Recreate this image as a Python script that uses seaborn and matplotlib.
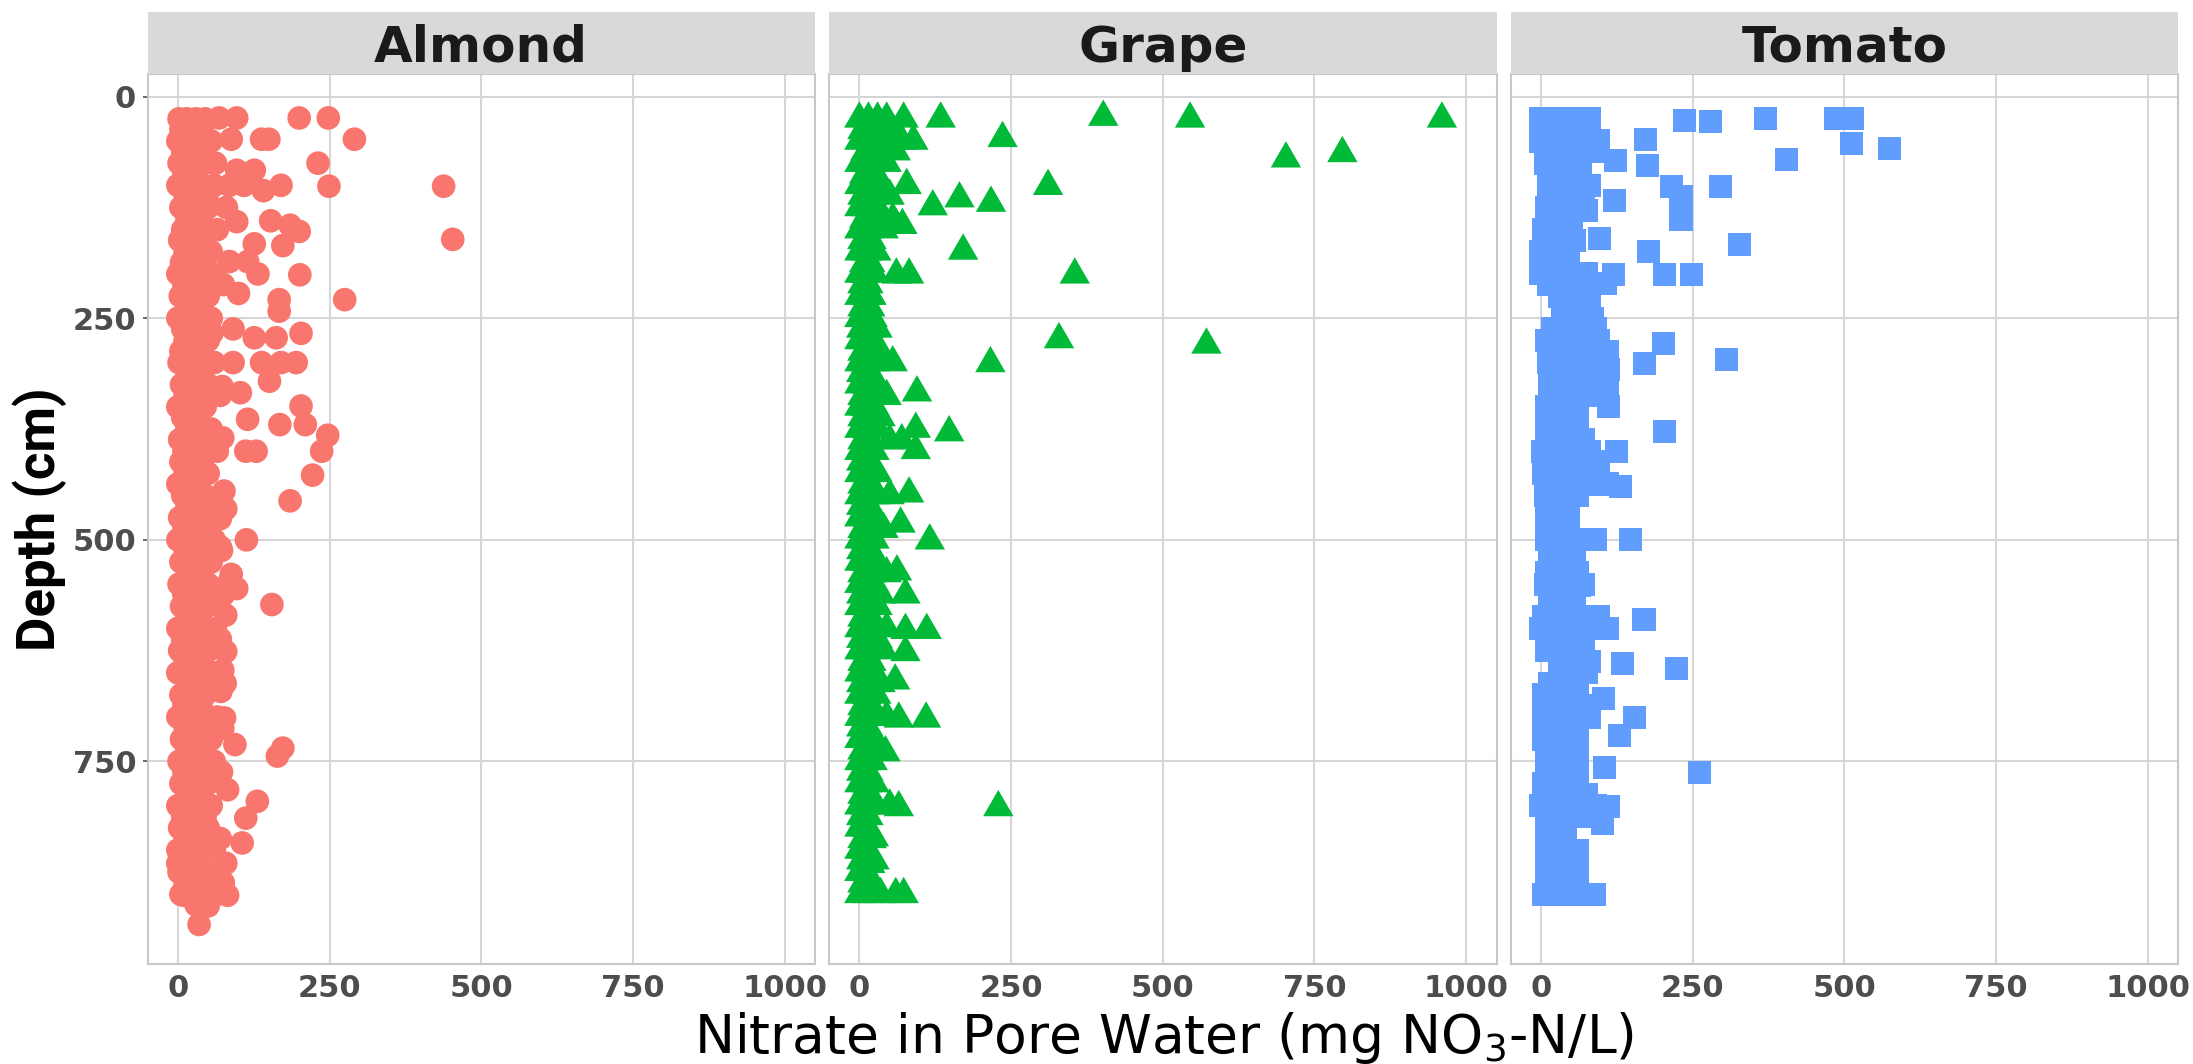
import matplotlib
matplotlib.use("Agg")
import matplotlib.pyplot as plt
from matplotlib.patches import Rectangle
from matplotlib.path import Path
import seaborn as sns
import pandas as pd

# ---------------- data (nitrate mg NO3-N/L, depth cm) ----------------
crops = ["Almond", "Grape", "Tomato"]
colors = {"Almond": "#F8766D", "Grape": "#00BA38", "Tomato": "#619CFF"}
x_ticks = [0, 250, 500, 750, 1000]
y_ticks = [0, 250, 500, 750]

almond_points = [
    (2,25),(15,25),(30,25),(45,25),(5,37),(40,37),(0,50),(12,50),(28,50),(55,50),
    (8,62),(35,62),(2,75),(20,75),(45,75),(62,75),(10,87),(30,87),(0,100),(18,100),
    (40,100),(60,100),(12,112),(48,112),(5,125),(25,125),(50,125),(15,137),(38,137),
    (8,150),(22,150),(45,150),(65,150),(3,162),(35,162),(12,175),(28,175),(55,175),
    (6,187),(42,187),(0,200),(20,200),(38,200),(60,200),(10,212),(30,212),(4,225),
    (25,225),(50,225),(15,237),(40,237),(0,250),(18,250),(35,250),(55,250),(8,262),
    (45,262),(12,275),(28,275),(50,275),(5,287),(35,287),(2,300),(20,300),(42,300),
    (60,300),(15,312),(38,312),(6,325),(25,325),(50,325),(12,337),(40,337),(0,350),
    (22,350),(45,350),(8,362),(30,362),(15,375),(35,375),(55,375),(3,387),(25,387),
    (10,400),(30,400),(50,400),(65,400),(5,412),(40,412),(12,425),(28,425),(50,425),
    (0,437),(35,437),(8,450),(25,450),(45,450),(15,462),(55,462),(3,475),(30,475),
    (48,475),(10,487),(40,487),(0,500),(20,500),(35,500),(60,500),(12,512),(45,512),
    (5,525),(25,525),(55,525),(18,537),(40,537),(2,550),(30,550),(50,550),(10,562),
    (38,562),(6,575),(22,575),(48,575),(15,587),(35,587),(0,600),(25,600),(45,600),
    (62,600),(8,612),(30,612),(3,625),(20,625),(50,625),(12,637),(40,637),(0,650),
    (28,650),(55,650),(15,662),(35,662),(5,675),(22,675),(45,675),(10,687),(38,687),
    (0,700),(25,700),(50,700),(65,700),(12,712),(35,712),(6,725),(28,725),(55,725),
    (15,737),(42,737),(2,750),(20,750),(38,750),(60,750),(10,762),(30,762),(5,775),
    (25,775),(50,775),(15,787),(40,787),(0,800),(20,800),(35,800),(55,800),(8,812),
    (45,812),(3,825),(25,825),(50,825),(12,837),(35,837),(0,850),(18,850),(40,850),
    (60,850),(8,862),(30,862),(2,875),(25,875),(50,875),(12,887),(40,887),(5,900),
    (22,900),(45,900),(65,900),(30,912),
    (72,512),(75,562),(70,612),(78,662),(72,762),(70,837),(75,887),(68,462),
    (80,125),(75,212),(70,337),
    (200,24),(248,24),(291,48),(231,75),(249,101),(438,101),(453,161),(201,201),
    (275,229),(167,229),(167,242),(203,267),(195,300),(170,300),(138,300),(151,321),
    (203,349),(168,370),(210,370),(247,382),(237,400),(222,427),(185,456),(113,500),
    (129,400),(112,400),(97,141),(153,140),(185,145),(200,152),(173,168),(126,166),
    (138,48),(150,48),(68,24),(97,24),(88,48),(97,83),(126,83),(85,100),(109,100),
    (141,106),(170,100),(85,186),(115,186),(132,200),(100,222),(56,267),(91,262),
    (126,272),(162,272),(91,300),(56,300),(73,327),(103,334),(21,342),(115,364),
    (15,373),(47,375),(74,385),(44,422),(76,445),(79,465),(70,476),(70,508),
    (18,519),(36,532),(88,539),(155,573),(85,547),(97,555),(79,585),(79,626),
    (74,647),(71,671),(77,701),(74,713),(94,731),(173,735),(164,744),(82,782),
    (131,795),(112,814),(106,842),(79,865),(82,901),(50,913),(35,934),(9,901),(0,865),
]

grape_points = [
    (0,25),(15,25),(30,25),(45,25),(73,25),(5,38),(25,38),(55,38),(0,50),(20,50),
    (40,50),(70,50),(89,50),(10,62),(30,62),(60,62),(0,75),(18,75),(45,75),(8,88),
    (28,88),(0,100),(15,100),(35,100),(78,100),(5,112),(25,112),(50,112),(0,125),
    (12,125),(30,125),(8,138),(22,138),(55,138),(0,150),(15,150),(40,150),(5,162),
    (20,162),(0,175),(12,175),(28,175),(8,188),(18,188),(0,200),(10,200),(25,200),
    (5,212),(15,212),(0,225),(12,225),(20,225),(5,238),(18,238),(0,250),(10,250),
    (22,250),(3,262),(15,262),(30,262),(0,275),(8,275),(20,275),(5,288),(15,288),
    (35,288),(0,300),(10,300),(25,300),(55,300),(3,312),(18,312),(0,325),(12,325),
    (30,325),(5,338),(20,338),(45,338),(0,350),(10,350),(25,350),(5,362),(15,362),
    (35,362),(0,375),(12,375),(30,375),(5,388),(20,388),(50,388),(70,388),(0,400),
    (10,400),(25,400),(3,412),(18,412),(0,425),(12,425),(30,425),(5,438),(20,438),
    (0,450),(10,450),(25,450),(50,450),(3,462),(15,462),(0,475),(12,475),(28,475),
    (5,488),(20,488),(40,488),(0,500),(10,500),(25,500),(3,512),(15,512),(0,525),
    (12,525),(30,525),(5,538),(20,538),(45,538),(0,550),(10,550),(25,550),(3,562),
    (15,562),(35,562),(0,575),(12,575),(30,575),(5,588),(20,588),(0,600),(10,600),
    (25,600),(45,600),(3,612),(15,612),(30,612),(0,625),(12,625),(40,625),(5,638),
    (20,638),(0,650),(10,650),(25,650),(3,662),(15,662),(35,662),(0,675),(12,675),
    (28,675),(5,688),(20,688),(0,700),(10,700),(30,700),(45,700),(3,712),(15,712),
    (0,725),(12,725),(25,725),(5,738),(20,738),(0,750),(10,750),(22,750),(3,762),
    (15,762),(0,775),(12,775),(25,775),(5,788),(18,788),(0,800),(10,800),(25,800),
    (50,800),(3,812),(15,812),(0,825),(12,825),(5,838),(20,838),(0,850),(10,850),
    (3,862),(15,862),(25,862),(0,875),(12,875),(5,888),(18,888),(0,900),(15,900),
    (35,900),(60,900),(73,900),
    (960,25),(402,23),(545,25),(703,70),(796,64),(236,47),(134,25),(311,101),
    (121,124),(165,115),(217,120),(171,174),(355,201),(61,201),(82,201),(329,274),
    (572,280),(216,301),(95,334),(148,379),(93,375),(82,448),(116,501),(68,482),
    (93,399),(71,145),(229,802),(62,536),(76,562),(111,602),(76,602),(76,627),
    (59,659),(110,702),(65,702),(43,740),(65,802),(24,836),(18,866),
]

tomato_points = [
    (0,25),(20,25),(40,25),(60,25),(80,25),(5,37),(30,37),(55,37),(75,37),
    (0,50),(25,50),(50,50),(70,50),(95,50),(10,62),(35,62),(60,62),(85,62),
    (8,75),(30,75),(55,75),(15,87),(40,87),(65,87),(12,100),(35,100),(60,100),(80,100),
    (20,112),(45,112),(70,112),(10,125),(35,125),(55,125),(15,137),(40,137),
    (5,150),(25,150),(50,150),(12,162),(35,162),(55,162),(0,175),(25,175),(45,175),
    (15,187),(40,187),(0,200),(25,200),(50,200),(75,200),(12,212),(40,212),(60,212),
    (30,225),(55,225),(80,225),(35,237),(60,237),(35,250),(60,250),(85,250),
    (20,262),(45,262),(90,262),(10,275),(35,275),(60,275),(95,275),(20,287),(50,287),
    (110,287),(12,300),(35,300),(60,300),(90,300),(20,312),(45,312),(75,312),
    (15,325),(40,325),(65,325),(110,325),(25,337),(50,337),(80,337),(10,350),(35,350),
    (60,350),(20,362),(45,362),(10,375),(35,375),(60,375),(15,387),(40,387),(70,387),
    (2,400),(30,400),(55,400),(80,400),(15,412),(40,412),(95,412),(5,425),(30,425),
    (60,425),(15,437),(45,437),(80,437),(110,437),(8,450),(35,450),(60,450),
    (15,462),(40,462),(10,475),(30,475),(45,475),(15,487),(40,487),(10,500),(35,500),
    (60,500),(90,500),(20,512),(45,512),(15,525),(35,525),(55,525),(10,537),(30,537),
    (60,537),(8,550),(35,550),(70,550),(20,562),(45,562),(15,575),(35,575),(55,575),
    (5,587),(30,587),(60,587),(95,587),(0,600),(25,600),(50,600),(80,600),(110,600),
    (15,612),(40,612),(70,612),(10,625),(35,625),(60,625),(30,637),(55,637),(80,637),
    (30,650),(50,650),(75,650),(15,662),(40,662),(60,662),(5,675),(30,675),(55,675),
    (10,687),(35,687),(70,687),(5,700),(30,700),(55,700),(80,700),(10,712),(35,712),
    (60,712),(5,725),(30,725),(55,725),(15,737),(40,737),(60,737),(10,750),(35,750),
    (60,750),(10,762),(35,762),(5,775),(30,775),(60,775),(10,787),(40,787),(75,787),
    (0,800),(25,800),(50,800),(90,800),(10,812),(35,812),(75,812),(15,825),(40,825),
    (10,837),(35,837),(15,850),(40,850),(60,850),(10,862),(35,862),(15,875),(40,875),
    (60,875),(10,887),(35,887),(5,900),(25,900),(50,900),(88,900),
    (236,27),(280,28),(371,25),(485,25),(514,25),(512,53),(574,58),(405,71),(173,48),
    (123,72),(176,78),(296,101),(216,101),(231,113),(231,138),(122,117),(75,128),
    (97,160),(327,167),(178,175),(203,201),(249,201),(120,201),(107,211),(202,279),
    (171,301),(306,296),(111,308),(111,350),(203,378),(124,400),(131,440),(147,500),
    (86,500),(170,590),(135,640),(224,645),(109,600),(104,679),(154,701),(129,721),
    (262,762),(105,757),(112,801),(101,820),(57,852),(55,880),(63,551),(46,525),
]

frames = []
for crop, pts in zip(crops, [almond_points, grape_points, tomato_points]):
    d = pd.DataFrame(pts, columns=["nitrate", "depth"])
    d["crop"] = crop
    frames.append(d)
df = pd.concat(frames, ignore_index=True)

# ---------------- styling ----------------
sns.set_style("white")
plt.rcParams["font.family"] = ["DejaVu Sans"]

W, H = 2193, 1064
fig = plt.figure(figsize=(W / 100, H / 100), dpi=100)

lefts = [147.5, 829.0, 1510.5]
pw = 667.5
top_px, bottom_px, strip_top = 74.0, 964.0, 11.7

tri = Path([(-1.3468, -0.7776), (1.3468, -0.7776), (0.0, 1.5551), (-1.3468, -0.7776)],
           [Path.MOVETO, Path.LINETO, Path.LINETO, Path.CLOSEPOLY])
markers = {"Almond": "o", "Grape": tri, "Tomato": "s"}
sizes = {"Almond": 290, "Grape": 640, "Tomato": 275}

for i, crop in enumerate(crops):
    l = lefts[i]
    ax = fig.add_axes([l / W, 1 - bottom_px / H, pw / W, (bottom_px - top_px) / H])
    sub = df[df["crop"] == crop]
    sns.scatterplot(data=sub, x="nitrate", y="depth", ax=ax, color=colors[crop],
                    marker=markers[crop], s=sizes[crop], linewidth=0,
                    edgecolor="none", legend=False, zorder=3)
    ax.set_xlim(-50, 1050)
    ax.set_ylim(978.6, -25.6)
    ax.set_xticks(x_ticks)
    ax.set_xticklabels([str(v) for v in x_ticks])
    ax.set_yticks(y_ticks)
    ax.set_yticklabels([str(v) for v in y_ticks])
    ax.grid(True, color="#D6D6D6", linewidth=1.5)
    ax.set_axisbelow(True)
    for sp in ax.spines.values():
        sp.set_color("#C8C8C8")
        sp.set_linewidth(1.5)
    ax.set_xlabel("")
    ax.set_ylabel("")
    ax.tick_params(axis="both", length=3.6, width=1.2, color="#4D4D4D",
                   labelcolor="#4D4D4D", labelsize=22, pad=3.5)
    for lab in ax.get_xticklabels() + ax.get_yticklabels():
        lab.set_fontweight("bold")
    if i == 0:
        ax.tick_params(axis="y", left=True, pad=4.5)
    else:
        ax.tick_params(axis="y", left=False, labelleft=False)

    # facet strip
    fig.patches.append(Rectangle((l / W, 1 - top_px / H), pw / W, (top_px - strip_top) / H,
                                 transform=fig.transFigure, facecolor="#D9D9D9",
                                 edgecolor="none", zorder=0))
    fig.text((l + pw / 2) / W, 1 - 62 / H, crop, ha="center", va="baseline",
             fontsize=36, fontweight="bold", color="#1A1A1A")

fig.text(1164 / W, 1 - 1053 / H, "Nitrate in Pore Water (mg NO$_3$-N/L)",
         ha="center", va="baseline", fontsize=38.5, color="black")

fig.text(40 / W, 1 - 519 / H, "Depth (cm)", rotation=90, ha="center", va="center",
         fontsize=38, fontweight="bold", color="black",
         family=["Roboto", "DejaVu Sans"])

fig.savefig("out.png", dpi=100)
